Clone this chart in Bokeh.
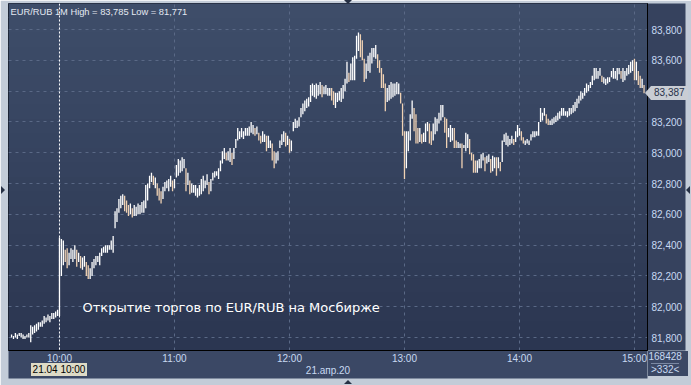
import numpy as np
from bokeh.plotting import figure
from bokeh.layouts import column
from bokeh.models import (ColumnDataSource, Label, Span, FixedTicker, CustomJSTickFormatter,
                          BoxAnnotation, Range1d, Div)
from bokeh.embed import file_html
from bokeh.resources import INLINE

# ---------------- data ----------------
session_start = 575          # first 1-minute bar: 09:35 (minutes after midnight)
header_text = "EUR/RUB 1M High = 83,785 Low = 81,771"
note_text = "Открытие торгов по EUR/RUB на Мосбирже"
day_label = "21.апр.20"
cursor_label = "21.04 10:00"
cursor_time = 600
last_price = 83.387
volume_text = "168428"
count_text = ">332<"
hour_ticks = [600, 660, 720, 780, 840, 900]
hour_labels = ["10:00", "11:00", "12:00", "13:00", "14:00", "15:00"]
price_ticks = [81.8, 82.0, 82.2, 82.4, 82.6, 82.8, 83.0, 83.2, 83.4, 83.6, 83.8]

highs = [
    81.82, 81.81, 81.83, 81.82, 81.83, 81.83, 81.82, 81.81, 81.82, 81.83,
    81.88, 81.87, 81.88, 81.89, 81.90, 81.90, 81.91, 81.94, 81.93, 81.95,
    81.94, 81.96, 81.96, 81.97, 81.98,
    82.45, 82.44, 82.43, 82.37, 82.38, 82.35, 82.38, 82.37, 82.40, 82.37,
    82.35, 82.33, 82.32, 82.33, 82.29, 82.27, 82.25, 82.29, 82.31, 82.33,
    82.33, 82.35, 82.38, 82.39, 82.40, 82.40, 82.40, 82.43, 82.46, 82.62,
    82.64, 82.70, 82.72, 82.73, 82.72, 82.69, 82.66, 82.67, 82.64, 82.66,
    82.65, 82.67, 82.66, 82.68, 82.69, 82.79, 82.80, 82.85, 82.87, 82.85,
    82.84, 82.80, 82.77, 82.75, 82.78, 82.81, 82.82, 82.83, 82.85, 82.82,
    82.83, 82.92, 82.96, 82.95, 82.97, 82.96, 82.90, 82.87, 82.82, 82.80,
    82.79, 82.79, 82.77, 82.79, 82.83, 82.85, 82.82, 82.86, 82.81, 82.83,
    82.87, 82.88, 82.88, 82.90, 82.95, 83.01, 83.03, 83.00, 83.01, 83.03,
    83.00, 83.03, 83.09, 83.16, 83.14, 83.16, 83.14, 83.16, 83.16, 83.17,
    83.20, 83.18, 83.16, 83.17, 83.13, 83.11, 83.14, 83.12, 83.11, 83.11,
    83.08, 83.06, 83.01, 83.00, 83.01, 83.08, 83.12, 83.14, 83.13, 83.11,
    83.09, 83.08, 83.20, 83.22, 83.21, 83.23, 83.29, 83.32, 83.34, 83.35,
    83.36, 83.44, 83.45, 83.44, 83.45, 83.44, 83.46, 83.44, 83.43, 83.44, 83.42, 83.42,
    83.42, 83.40, 83.39, 83.39, 83.40, 83.42, 83.44, 83.48, 83.59, 83.52,
    83.58, 83.62, 83.63, 83.76, 83.78, 83.77, 83.73, 83.61, 83.58, 83.63,
    83.65, 83.68, 83.68, 83.70, 83.64, 83.60, 83.55, 83.51, 83.45, 83.42,
    83.44, 83.46, 83.45, 83.45, 83.46, 83.45, 83.39, 83.32, 83.14, 83.14,
    83.14, 83.25, 83.34, 83.29, 83.25, 83.16, 83.16, 83.12, 83.13, 83.19,
    83.20, 83.19, 83.14, 83.19, 83.23, 83.22, 83.26, 83.31, 83.31, 83.23,
    83.22, 83.16, 83.18, 83.16, 83.16, 83.08, 83.07, 83.06, 83.06, 83.05,
    83.13, 83.12, 83.09, 83.00, 82.99, 82.95, 82.95, 82.96, 82.99, 83.00,
    82.97, 82.98, 82.99,
    82.96, 82.98, 82.97, 82.97, 82.97, 82.94, 83.08, 83.12, 83.13, 83.11,
    83.09, 83.11, 83.09, 83.14, 83.18, 83.16, 83.14, 83.10, 83.08, 83.09,
    83.08, 83.12, 83.14, 83.14, 83.14, 83.20, 83.29, 83.26, 83.29, 83.25,
    83.22, 83.21, 83.22, 83.23, 83.24, 83.26, 83.27, 83.29, 83.29, 83.27,
    83.27, 83.29, 83.29, 83.31, 83.33, 83.35, 83.37, 83.40, 83.39, 83.42,
    83.45, 83.44, 83.46, 83.50, 83.55, 83.55, 83.53, 83.55, 83.50, 83.49,
    83.48, 83.49, 83.49, 83.53, 83.55, 83.53, 83.55, 83.55, 83.53, 83.55,
    83.53, 83.55, 83.57, 83.59, 83.60, 83.61, 83.59, 83.53, 83.50, 83.48,
    83.44,
]

lows = [
    81.80, 81.79, 81.80, 81.79, 81.81, 81.80, 81.79, 81.79, 81.80, 81.80,
    81.77, 81.82, 81.83, 81.84, 81.85, 81.87, 81.87, 81.89, 81.90, 81.91,
    81.90, 81.92, 81.92, 81.93, 81.94,
    81.94, 82.20, 82.27, 82.29, 82.25, 82.27, 82.31, 82.29, 82.31, 82.26,
    82.29, 82.25, 82.24, 82.26, 82.20, 82.18, 82.18, 82.20, 82.25, 82.27,
    82.29, 82.27, 82.33, 82.35, 82.35, 82.35, 82.37, 82.37, 82.35, 82.51,
    82.55, 82.61, 82.64, 82.66, 82.62, 82.61, 82.59, 82.60, 82.58, 82.59,
    82.59, 82.60, 82.60, 82.61, 82.61, 82.64, 82.69, 82.77, 82.81, 82.79,
    82.77, 82.72, 82.69, 82.67, 82.70, 82.75, 82.77, 82.75, 82.78, 82.75,
    82.77, 82.84, 82.85, 82.87, 82.88, 82.90, 82.75, 82.79, 82.73, 82.74,
    82.74, 82.72, 82.71, 82.72, 82.73, 82.75, 82.77, 82.79, 82.73, 82.75,
    82.82, 82.84, 82.85, 82.83, 82.88, 82.93, 82.96, 82.95, 82.95, 82.94,
    82.92, 82.96, 83.03, 83.08, 83.09, 83.10, 83.09, 83.11, 83.11, 83.11,
    83.13, 83.12, 83.11, 83.12, 83.08, 83.06, 83.07, 83.07, 83.01, 83.03,
    83.03, 82.95, 82.90, 82.93, 82.95, 83.03, 83.05, 83.07, 83.04, 83.05,
    83.00, 83.01, 83.14, 83.16, 83.16, 83.17, 83.23, 83.25, 83.27, 83.29,
    83.30, 83.33, 83.37, 83.36, 83.35, 83.37, 83.38, 83.36, 83.38, 83.38, 83.37, 83.37,
    83.34, 83.31, 83.29, 83.33, 83.34, 83.33, 83.35, 83.40, 83.45, 83.46,
    83.47, 83.47, 83.47, 83.61, 83.66, 83.62, 83.60, 83.46, 83.48, 83.53,
    83.52, 83.58, 83.62, 83.61, 83.55, 83.52, 83.42, 83.42, 83.27, 83.33,
    83.34, 83.35, 83.36, 83.37, 83.38, 83.38, 83.32, 83.11, 82.83, 82.90,
    83.01, 83.08, 83.22, 83.14, 83.06, 83.06, 83.07, 83.06, 83.07, 83.07,
    83.14, 83.06, 83.05, 83.08, 83.12, 83.14, 83.19, 83.21, 83.23, 83.13,
    83.03, 83.10, 83.07, 83.08, 83.03, 83.03, 83.03, 83.03, 82.90, 83.03,
    83.01, 83.03, 82.99, 82.95, 82.87, 82.87, 82.87, 82.90, 82.90, 82.95,
    82.88, 82.93, 82.94,
    82.87, 82.88, 82.90, 82.85, 82.90, 82.88, 82.94, 83.07, 83.05, 83.04,
    83.05, 83.06, 83.05, 83.07, 83.10, 83.11, 83.08, 83.06, 83.05, 83.06,
    83.05, 83.08, 83.10, 83.10, 83.11, 83.11, 83.20, 83.21, 83.24, 83.19,
    83.18, 83.18, 83.18, 83.19, 83.20, 83.21, 83.22, 83.24, 83.24, 83.24,
    83.23, 83.24, 83.25, 83.26, 83.27, 83.29, 83.32, 83.34, 83.35, 83.37,
    83.39, 83.40, 83.42, 83.44, 83.47, 83.48, 83.48, 83.50, 83.46, 83.45,
    83.44, 83.45, 83.46, 83.49, 83.48, 83.48, 83.47, 83.51, 83.48, 83.46,
    83.47, 83.50, 83.51, 83.52, 83.53, 83.47, 83.47, 83.44, 83.42, 83.42,
    83.387,
]

# ---------------- style ----------------
X0, X1 = 573.4, 906.8
Y0, Y1 = 81.716, 83.969
LEFT, TOP = 8, 3
FRAME_W, FRAME_H = 639, 347
BG_TOP = (62, 77, 106)
BG_BOT = (43, 54, 80)
AXIS_BG = "#36425e"
BOTTOM_BG = "#3b4865"
OUTER = "#c3ccd8"
TICK_TXT = "#c8d9f2"
UP_COL = "#ffffff"
DOWN_COL = "#f0d2b4"
FONT = "'Liberation Sans', Arial, sans-serif"

n = min(len(highs), len(lows))
hi = np.array(highs[:n])
lo = np.array(lows[:n])
t = session_start + np.arange(n)
mid = (hi + lo) / 2
prev = np.concatenate([[mid[0]], mid[:-1]])
colors = [DOWN_COL if m < p - 0.015 else UP_COL for m, p in zip(mid, prev)]
src = ColumnDataSource(dict(t=t, high=hi, low=lo, color=colors))

p = figure(width=691, height=385,
           x_range=Range1d(X0, X1), y_range=Range1d(Y0, Y1),
           y_axis_location="right", output_backend="svg", toolbar_location=None,
           min_border_left=LEFT, min_border_top=TOP, min_border_right=44, min_border_bottom=35,
           background_fill_color="#35425e", border_fill_color=OUTER,
           outline_line_color="#151b28")

# vertical gradient of the chart background
nb = 24
for k in range(nb):
    f = (k + 0.5) / nb
    c = tuple(int(round(BG_BOT[j] + (BG_TOP[j] - BG_BOT[j]) * f)) for j in range(3))
    p.add_layout(BoxAnnotation(bottom=FRAME_H * k / nb, top=FRAME_H * (k + 1) / nb + 1,
                               bottom_units="screen", top_units="screen",
                               fill_color="#%02x%02x%02x" % c, fill_alpha=1.0,
                               line_color=None, level="image"))

# grids
p.xgrid.ticker = FixedTicker(ticks=hour_ticks)
p.ygrid.ticker = FixedTicker(ticks=price_ticks)
for g in (p.xgrid[0], p.ygrid[0]):
    g.grid_line_color = "#5a6986"
    g.grid_line_dash = "3 4"
    g.grid_line_width = 1

# axes
xa = p.xaxis[0]
ya = p.yaxis[0]
xa.ticker = FixedTicker(ticks=hour_ticks)
xa.major_label_overrides = dict(zip(hour_ticks, hour_labels))
ya.ticker = FixedTicker(ticks=price_ticks)
ya.formatter = CustomJSTickFormatter(code="return tick.toFixed(3).replace('.', ',');")
for ax in (xa, ya):
    ax.axis_line_color = "black"
    ax.axis_line_width = 1
    ax.major_tick_line_color = None
    ax.minor_tick_line_color = None
    ax.major_tick_out = 0
    ax.major_tick_in = 0
    ax.major_label_text_color = TICK_TXT
    ax.major_label_text_font = "Liberation Sans"
    ax.major_label_text_font_size = "10px"
xa.background_fill_color = BOTTOM_BG
ya.background_fill_color = AXIS_BG
ya.major_label_standoff = 4
xa.major_label_standoff = 2
xa.axis_label = day_label
xa.axis_label_text_font = "Liberation Sans"
xa.axis_label_text_font_size = "10px"
xa.axis_label_text_font_style = "normal"
xa.axis_label_text_color = TICK_TXT
xa.axis_label_standoff = -2

# bars
p.segment(x0="t", x1="t", y0="low", y1="high", line_color="color", line_width=1.3, source=src)

# crosshair at the opening bar
p.add_layout(Span(location=cursor_time, dimension="height", line_color="white",
                  line_dash="2 2", line_width=1))

# texts inside the frame
p.add_layout(Label(x=2, y=FRAME_H - 3, x_units="screen", y_units="screen", text=header_text,
                   text_font="Liberation Sans", text_font_size="9.3px",
                   text_color="#e4e9f2", text_baseline="top"))
p.add_layout(Label(x=74, y=43, x_units="screen", y_units="screen", text=note_text,
                   text_font="DejaVu Sans", text_font_size="13px",
                   text_color="white", text_baseline="middle"))

# page-level overlays for the marks that sit in the chart margins
cx = LEFT + (cursor_time - X0) / (X1 - X0) * FRAME_W
py = TOP + (Y1 - last_price) / (Y1 - Y0) * FRAME_H


def box(html, left, top, w, h, extra):
    st = {"position": "absolute", "left": f"{left:.0f}px", "top": f"{top:.0f}px",
          "width": f"{w}px", "height": f"{h}px", "font-family": FONT, "font-size": "10px",
          "overflow": "visible", "z-index": "10", "box-sizing": "border-box",
          "margin": "0px"}
    st.update(extra)
    return Div(text=html, width=w, height=h, margin=0, styles=st)


overlays = [
    box(cursor_label, cx - 28, 363, 56, 13,
        {"background-color": "#dedbc6", "color": "black", "text-align": "center",
         "line-height": "13px"}),
    box(f"{last_price:.3f}".replace(".", ","), LEFT + FRAME_W + 4, py - 7, 37, 14,
        {"background-color": "#c9cdd4", "color": "#27314a", "padding-left": "3px",
         "line-height": "14px"}),
    box("", LEFT + FRAME_W - 2, py - 7, 0, 0,
        {"width": "0px", "height": "0px", "border-top": "7px solid transparent",
         "border-bottom": "7px solid transparent", "border-right": "6px solid #c9cdd4"}),
    box('<div style="text-align:center;line-height:12px">' + volume_text + '</div>'
        '<div style="text-align:center;line-height:11px;border-top:1px solid #7a88a2;'
        'margin:0 3px">' + count_text.replace(">", "&gt;").replace("<", "&lt;") + '</div>',
        LEFT + FRAME_W + 1, 351, 40, 25,
        {"background-color": BOTTOM_BG, "color": TICK_TXT}),
    box("", 344, 0, 0, 0,
        {"width": "0px", "height": "0px", "border-left": "4px solid transparent",
         "border-right": "4px solid transparent", "border-top": "4px solid #263044"}),
    box("", 344, 380, 0, 0,
        {"width": "0px", "height": "0px", "border-left": "4px solid transparent",
         "border-right": "4px solid transparent", "border-bottom": "4px solid #263044"}),
    box("", 1, 186, 0, 0,
        {"width": "0px", "height": "0px", "border-top": "4px solid transparent",
         "border-bottom": "4px solid transparent", "border-left": "4px solid #263044"}),
    box("", 686, 186, 0, 0,
        {"width": "0px", "height": "0px", "border-top": "4px solid transparent",
         "border-bottom": "4px solid transparent", "border-right": "4px solid #263044"}),
]

layout = column(p, *overlays, spacing=0, styles={"position": "relative"})
open("out.html", "w").write(file_html(layout, INLINE))
